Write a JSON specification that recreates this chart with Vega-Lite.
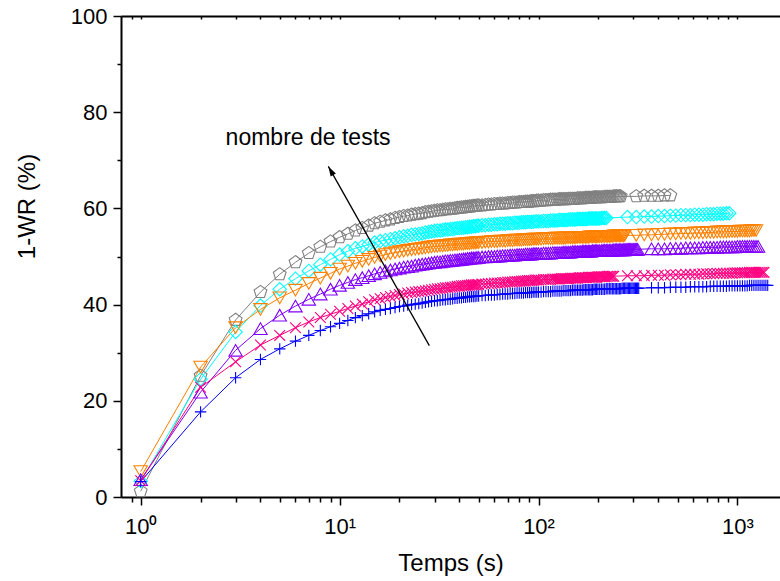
{
"$schema": "https://vega.github.io/schema/vega-lite/v6.json",
"width": 659, "height": 481,
"autosize": {"type": "none"},
"padding": {"left": 121, "top": 16, "right": 0, "bottom": 84},
"background": "white",
"config": {"view": {"stroke": null}, "font": "Liberation Sans"},
"datasets": {"d": [
{"t":1,"g":1.2,"c":3.3,"o":5.3,"p":3.6,"m":3.4,"b":3.2},
{"t":2,"g":25.2,"c":24.5,"o":27.0,"p":21.8,"m":22.8,"b":17.7},
{"t":3,"g":36.8,"c":34.3,"o":35.2,"p":30.5,"m":28.1,"b":24.8},
{"t":4,"g":42.6,"c":39.8,"o":39.0,"p":35.0,"m":31.6,"b":28.6},
{"t":5,"g":46.3,"c":43.2,"o":41.4,"p":37.8,"m":33.6,"b":30.8},
{"t":6,"g":48.8,"c":45.4,"o":43.0,"p":39.7,"m":35.2,"b":32.4},
{"t":7,"g":50.7,"c":47.0,"o":44.4,"p":41.1,"m":36.4,"b":33.6},
{"t":8,"g":52.0,"c":48.3,"o":45.5,"p":42.2,"m":37.3,"b":34.6},
{"t":9,"g":53.1,"c":49.4,"o":46.5,"p":43.2,"m":38.0,"b":35.4},
{"t":10,"g":54.0,"c":50.4,"o":47.4,"p":44.0,"m":38.6,"b":36.1},
{"t":11,"g":54.7,"c":51.1,"o":48.0,"p":44.6,"m":39.2,"b":36.7},
{"t":12,"g":55.4,"c":51.7,"o":48.6,"p":45.2,"m":39.7,"b":37.3},
{"t":13,"g":55.9,"c":52.1,"o":49.0,"p":45.6,"m":40.1,"b":37.7},
{"t":14,"g":56.4,"c":52.5,"o":49.4,"p":46.0,"m":40.6,"b":38.1},
{"t":15,"g":56.9,"c":52.9,"o":49.8,"p":46.4,"m":41.0,"b":38.5},
{"t":16,"g":57.2,"c":53.2,"o":50.1,"p":46.7,"m":41.2,"b":38.8},
{"t":17,"g":57.5,"c":53.4,"o":50.4,"p":47.0,"m":41.5,"b":39.0},
{"t":18,"g":57.7,"c":53.6,"o":50.6,"p":47.2,"m":41.7,"b":39.2},
{"t":19,"g":58.0,"c":53.8,"o":50.8,"p":47.4,"m":41.9,"b":39.4},
{"t":20,"g":58.2,"c":54.0,"o":51.0,"p":47.6,"m":42.1,"b":39.6},
{"t":21,"g":58.4,"c":54.2,"o":51.1,"p":47.8,"m":42.2,"b":39.7},
{"t":22,"g":58.5,"c":54.3,"o":51.3,"p":47.9,"m":42.4,"b":39.9},
{"t":23,"g":58.7,"c":54.5,"o":51.4,"p":48.0,"m":42.5,"b":40.0},
{"t":24,"g":58.8,"c":54.6,"o":51.5,"p":48.2,"m":42.6,"b":40.1},
{"t":25,"g":58.9,"c":54.7,"o":51.6,"p":48.3,"m":42.7,"b":40.2},
{"t":26,"g":59.0,"c":54.8,"o":51.7,"p":48.4,"m":42.8,"b":40.3},
{"t":27,"g":59.2,"c":55.0,"o":51.8,"p":48.5,"m":42.9,"b":40.5},
{"t":28,"g":59.3,"c":55.1,"o":51.9,"p":48.6,"m":43.0,"b":40.6},
{"t":29,"g":59.4,"c":55.2,"o":52.0,"p":48.7,"m":43.1,"b":40.7},
{"t":30,"g":59.5,"c":55.3,"o":52.1,"p":48.8,"m":43.2,"b":40.8},
{"t":31,"g":59.6,"c":55.4,"o":52.1,"p":48.9,"m":43.3,"b":40.8},
{"t":32,"g":59.6,"c":55.4,"o":52.2,"p":48.9,"m":43.3,"b":40.9},
{"t":33,"g":59.7,"c":55.5,"o":52.2,"p":49.0,"m":43.4,"b":41.0},
{"t":34,"g":59.8,"c":55.6,"o":52.3,"p":49.1,"m":43.5,"b":41.0},
{"t":35,"g":59.8,"c":55.6,"o":52.3,"p":49.1,"m":43.5,"b":41.1},
{"t":36,"g":59.9,"c":55.7,"o":52.4,"p":49.2,"m":43.6,"b":41.1},
{"t":37,"g":59.9,"c":55.7,"o":52.4,"p":49.2,"m":43.6,"b":41.2},
{"t":38,"g":60.0,"c":55.8,"o":52.5,"p":49.3,"m":43.7,"b":41.3},
{"t":39,"g":60.1,"c":55.9,"o":52.5,"p":49.3,"m":43.8,"b":41.3},
{"t":40,"g":60.1,"c":55.9,"o":52.6,"p":49.4,"m":43.8,"b":41.4},
{"t":41,"g":60.2,"c":56.0,"o":52.6,"p":49.4,"m":43.9,"b":41.4},
{"t":42,"g":60.2,"c":56.0,"o":52.6,"p":49.5,"m":43.9,"b":41.5},
{"t":43,"g":60.3,"c":56.1,"o":52.7,"p":49.5,"m":43.9,"b":41.5},
{"t":44,"g":60.3,"c":56.1,"o":52.7,"p":49.6,"m":44.0,"b":41.6},
{"t":45,"g":60.4,"c":56.2,"o":52.7,"p":49.6,"m":44.0,"b":41.6},
{"t":46,"g":60.4,"c":56.2,"o":52.8,"p":49.7,"m":44.1,"b":41.7},
{"t":47,"g":60.5,"c":56.3,"o":52.8,"p":49.7,"m":44.1,"b":41.7},
{"t":48,"g":60.5,"c":56.3,"o":52.8,"p":49.7,"m":44.1,"b":41.7},
{"t":49,"g":60.6,"c":56.4,"o":52.9,"p":49.8,"m":44.2,"b":41.8},
{"t":50,"g":60.6,"c":56.4,"o":52.9,"p":49.8,"m":44.2,"b":41.8},
{"t":52,"g":60.6,"c":56.5,"o":52.9,"p":49.9,"m":44.3,"b":41.9},
{"t":54,"g":60.7,"c":56.5,"o":53.0,"p":49.9,"m":44.3,"b":41.9},
{"t":56,"g":60.8,"c":56.6,"o":53.0,"p":50.0,"m":44.4,"b":42.0},
{"t":58,"g":60.8,"c":56.6,"o":53.1,"p":50.0,"m":44.4,"b":42.0},
{"t":60,"g":60.9,"c":56.7,"o":53.1,"p":50.0,"m":44.5,"b":42.0},
{"t":62,"g":60.9,"c":56.7,"o":53.1,"p":50.1,"m":44.5,"b":42.1},
{"t":64,"g":61.0,"c":56.8,"o":53.2,"p":50.1,"m":44.5,"b":42.1},
{"t":66,"g":61.0,"c":56.8,"o":53.2,"p":50.2,"m":44.6,"b":42.2},
{"t":68,"g":61.0,"c":56.8,"o":53.2,"p":50.2,"m":44.6,"b":42.2},
{"t":70,"g":61.1,"c":56.9,"o":53.3,"p":50.2,"m":44.7,"b":42.2},
{"t":72,"g":61.1,"c":56.9,"o":53.3,"p":50.3,"m":44.7,"b":42.3},
{"t":74,"g":61.2,"c":56.9,"o":53.3,"p":50.3,"m":44.7,"b":42.3},
{"t":76,"g":61.2,"c":57.0,"o":53.4,"p":50.3,"m":44.8,"b":42.3},
{"t":78,"g":61.2,"c":57.0,"o":53.4,"p":50.4,"m":44.8,"b":42.4},
{"t":80,"g":61.3,"c":57.0,"o":53.4,"p":50.4,"m":44.8,"b":42.4},
{"t":82,"g":61.3,"c":57.1,"o":53.4,"p":50.4,"m":44.9,"b":42.4},
{"t":84,"g":61.3,"c":57.1,"o":53.5,"p":50.4,"m":44.9,"b":42.4},
{"t":86,"g":61.4,"c":57.1,"o":53.5,"p":50.5,"m":44.9,"b":42.5},
{"t":88,"g":61.4,"c":57.2,"o":53.5,"p":50.5,"m":45.0,"b":42.5},
{"t":90,"g":61.4,"c":57.2,"o":53.5,"p":50.5,"m":45.0,"b":42.5},
{"t":92,"g":61.5,"c":57.2,"o":53.5,"p":50.5,"m":45.0,"b":42.5},
{"t":94,"g":61.5,"c":57.2,"o":53.6,"p":50.6,"m":45.0,"b":42.6},
{"t":96,"g":61.5,"c":57.3,"o":53.6,"p":50.6,"m":45.1,"b":42.6},
{"t":98,"g":61.6,"c":57.3,"o":53.6,"p":50.6,"m":45.1,"b":42.6},
{"t":100,"g":61.6,"c":57.3,"o":53.6,"p":50.6,"m":45.1,"b":42.6},
{"t":103,"g":61.6,"c":57.3,"o":53.6,"p":50.6,"m":45.1,"b":42.6},
{"t":106,"g":61.7,"c":57.4,"o":53.7,"p":50.7,"m":45.2,"b":42.7},
{"t":109,"g":61.7,"c":57.4,"o":53.7,"p":50.7,"m":45.2,"b":42.7},
{"t":112,"g":61.7,"c":57.4,"o":53.7,"p":50.7,"m":45.2,"b":42.7},
{"t":115,"g":61.8,"c":57.5,"o":53.7,"p":50.7,"m":45.2,"b":42.7},
{"t":118,"g":61.8,"c":57.5,"o":53.7,"p":50.8,"m":45.3,"b":42.8},
{"t":121,"g":61.8,"c":57.5,"o":53.8,"p":50.8,"m":45.3,"b":42.8},
{"t":124,"g":61.8,"c":57.5,"o":53.8,"p":50.8,"m":45.3,"b":42.8},
{"t":127,"g":61.9,"c":57.6,"o":53.8,"p":50.8,"m":45.3,"b":42.8},
{"t":130,"g":61.9,"c":57.6,"o":53.8,"p":50.8,"m":45.4,"b":42.8},
{"t":133,"g":61.9,"c":57.6,"o":53.8,"p":50.9,"m":45.4,"b":42.9},
{"t":136,"g":61.9,"c":57.6,"o":53.8,"p":50.9,"m":45.4,"b":42.9},
{"t":139,"g":61.9,"c":57.6,"o":53.9,"p":50.9,"m":45.4,"b":42.9},
{"t":142,"g":62.0,"c":57.7,"o":53.9,"p":50.9,"m":45.4,"b":42.9},
{"t":145,"g":62.0,"c":57.7,"o":53.9,"p":50.9,"m":45.5,"b":42.9},
{"t":148,"g":62.0,"c":57.7,"o":53.9,"p":51.0,"m":45.5,"b":43.0},
{"t":151,"g":62.0,"c":57.7,"o":53.9,"p":51.0,"m":45.5,"b":43.0},
{"t":154,"g":62.0,"c":57.7,"o":53.9,"p":51.0,"m":45.5,"b":43.0},
{"t":157,"g":62.1,"c":57.8,"o":54.0,"p":51.0,"m":45.5,"b":43.0},
{"t":160,"g":62.1,"c":57.8,"o":54.0,"p":51.0,"m":45.6,"b":43.0},
{"t":163,"g":62.1,"c":57.8,"o":54.0,"p":51.0,"m":45.6,"b":43.0},
{"t":166,"g":62.1,"c":57.8,"o":54.0,"p":51.1,"m":45.6,"b":43.0},
{"t":169,"g":62.1,"c":57.8,"o":54.0,"p":51.1,"m":45.6,"b":43.1},
{"t":172,"g":62.2,"c":57.8,"o":54.0,"p":51.1,"m":45.6,"b":43.1},
{"t":175,"g":62.2,"c":57.8,"o":54.0,"p":51.1,"m":45.6,"b":43.1},
{"t":178,"g":62.2,"c":57.9,"o":54.0,"p":51.1,"m":45.7,"b":43.1},
{"t":181,"g":62.2,"c":57.9,"o":54.1,"p":51.1,"m":45.7,"b":43.1},
{"t":184,"g":62.2,"c":57.9,"o":54.1,"p":51.1,"m":45.7,"b":43.1},
{"t":187,"g":62.2,"c":57.9,"o":54.1,"p":51.2,"m":45.7,"b":43.1},
{"t":190,"g":62.3,"c":57.9,"o":54.1,"p":51.2,"m":45.7,"b":43.2},
{"t":193,"g":62.3,"c":57.9,"o":54.1,"p":51.2,"m":45.7,"b":43.2},
{"t":196,"g":62.3,"c":57.9,"o":54.1,"p":51.2,"m":45.7,"b":43.2},
{"t":199,"g":62.3,"c":57.9,"o":54.1,"p":51.2,"m":45.8,"b":43.2},
{"t":203,"g":62.3,"c":57.9,"o":54.1,"p":51.2,"m":45.8,"b":43.2},
{"t":207,"g":62.3,"c":58.0,"o":54.1,"p":51.2,"m":45.8,"b":43.2},
{"t":211,"g":62.3,"c":58.0,"o":54.2,"p":51.3,"m":45.8,"b":43.2},
{"t":215,"g":62.4,"c":58.0,"o":54.2,"p":51.3,"m":45.8,"b":43.2},
{"t":219,"g":62.4,"c":58.0,"o":54.2,"p":51.3,"m":45.8,"b":43.3},
{"t":223,"g":62.4,"o":54.2,"p":51.3,"m":45.9,"b":43.3},
{"t":227,"g":62.4,"o":54.2,"p":51.3,"m":45.9,"b":43.3},
{"t":231,"g":62.4,"o":54.2,"p":51.3,"m":45.9,"b":43.3},
{"t":235,"g":62.4,"o":54.2,"p":51.3,"m":45.9,"b":43.3},
{"t":239,"g":62.5,"o":54.3,"p":51.4,"m":45.9,"b":43.3},
{"t":243,"g":62.5,"o":54.3,"p":51.4,"b":43.3},
{"t":247,"g":62.5,"o":54.3,"p":51.4,"b":43.3},
{"t":251,"g":62.5,"o":54.3,"p":51.4,"b":43.3},
{"t":255,"g":62.5,"o":54.3,"p":51.4,"b":43.3},
{"t":259,"g":62.5,"o":54.3,"p":51.4,"b":43.3},
{"t":263,"o":54.3,"p":51.4,"b":43.4},
{"t":267,"o":54.3,"p":51.4,"b":43.4},
{"t":271,"o":54.4,"p":51.4,"b":43.4},
{"t":275,"p":51.5,"b":43.4},
{"t":279,"p":51.5,"b":43.4},
{"t":280,"c":58.2,"m":46.0},
{"t":283,"p":51.5,"b":43.4},
{"t":287,"p":51.5,"b":43.4},
{"t":291,"p":51.5,"b":43.4},
{"t":295,"p":51.5,"b":43.4},
{"t":299,"p":51.5,"b":43.4},
{"t":303,"p":51.5,"b":43.4},
{"t":307,"p":51.5,"b":43.4},
{"t":310,"g":62.5,"c":58.2,"o":54.4,"m":46.0},
{"t":311,"p":51.5,"b":43.4},
{"t":315,"p":51.5,"b":43.4},
{"t":319,"b":43.4},
{"t":340,"g":62.6,"c":58.3,"o":54.5,"m":46.0},
{"t":370,"g":62.6,"c":58.3,"o":54.5,"p":51.6,"m":46.1,"b":43.5},
{"t":400,"g":62.6,"c":58.4,"o":54.6,"p":51.6,"m":46.1,"b":43.5},
{"t":430,"g":62.7,"c":58.4,"o":54.6,"p":51.6,"m":46.1,"b":43.5},
{"t":460,"g":62.7,"c":58.5,"o":54.7,"p":51.7,"m":46.2,"b":43.6},
{"t":490,"c":58.5,"o":54.7,"p":51.7,"m":46.2,"b":43.6},
{"t":520,"c":58.6,"o":54.8,"p":51.7,"m":46.2,"b":43.6},
{"t":550,"c":58.6,"o":54.8,"p":51.8,"m":46.3,"b":43.6},
{"t":580,"c":58.6,"o":54.8,"p":51.8,"m":46.3,"b":43.7},
{"t":610,"c":58.7,"o":54.9,"p":51.8,"m":46.3,"b":43.7},
{"t":640,"c":58.7,"o":54.9,"p":51.8,"m":46.3,"b":43.7},
{"t":670,"c":58.7,"o":54.9,"p":51.9,"m":46.4,"b":43.7},
{"t":700,"c":58.8,"o":55.0,"p":51.9,"m":46.4,"b":43.7},
{"t":730,"c":58.8,"o":55.0,"p":51.9,"m":46.4,"b":43.8},
{"t":760,"c":58.8,"o":55.0,"p":51.9,"m":46.4,"b":43.8},
{"t":790,"c":58.9,"o":55.1,"p":51.9,"m":46.5,"b":43.8},
{"t":820,"c":58.9,"o":55.1,"p":52.0,"m":46.5,"b":43.8},
{"t":850,"c":58.9,"o":55.1,"p":52.0,"m":46.5,"b":43.8},
{"t":880,"c":59.0,"o":55.1,"p":52.0,"m":46.5,"b":43.8},
{"t":910,"c":59.0,"o":55.2,"p":52.0,"m":46.5,"b":43.9},
{"t":940,"o":55.2,"p":52.0,"m":46.5,"b":43.9},
{"t":970,"o":55.2,"p":52.0,"m":46.6,"b":43.9},
{"t":1000,"o":55.2,"p":52.1,"m":46.6,"b":43.9},
{"t":1030,"o":55.3,"p":52.1,"m":46.6,"b":43.9},
{"t":1060,"o":55.3,"p":52.1,"m":46.6,"b":43.9},
{"t":1090,"o":55.3,"p":52.1,"m":46.6,"b":43.9},
{"t":1120,"o":55.3,"p":52.1,"m":46.6,"b":43.9},
{"t":1150,"o":55.3,"p":52.1,"m":46.7,"b":44.0},
{"t":1180,"o":55.4,"p":52.1,"m":46.7,"b":44.0},
{"t":1210,"o":55.4,"p":52.1,"m":46.7,"b":44.0},
{"t":1240,"o":55.4,"p":52.1,"m":46.7,"b":44.0},
{"t":1270,"p":52.1,"m":46.7,"b":44.0},
{"t":1300,"m":46.7,"b":44.0},
{"t":1330,"m":46.7,"b":44.0},
{"t":1360,"m":46.7,"b":44.0},
{"t":1390,"b":44.0},
{"t":1420,"b":44.0}
]},
"layer": [
{
"data": {"name": "d"},
"transform": [{"fold": ["g","c","o","p","m","b"], "as": ["s","y"]}, {"filter": "isValid(datum.y)"}],
"mark": {"type": "line", "strokeWidth": 1},
"encoding": {
"x": {"field": "t", "type": "quantitative", "scale": {"type": "log", "domain": [0.796, 1637], "nice": false},
"axis": {"orient": "bottom", "values": [1,10,100,1000], "labelExpr": "datum.value < 5 ? '10⁰' : datum.value < 50 ? '10¹' : datum.value < 500 ? '10²' : '10³'", "tickSize": 8, "tickWidth": 1.5, "tickColor": "black", "domainWidth": 2, "domainColor": "black", "labelFontSize": 22, "labelFont": "Liberation Sans", "labelColor": "black", "labelPadding": 11, "labelFlush": false, "labelOverlap": false, "grid": false, "title": "Temps (s)", "titleFontSize": 24, "titleFont": "Liberation Sans", "titleFontWeight": "normal", "titleColor": "black", "titleY": 54, "titleBaseline": "top"}},
"y": {"field": "y", "type": "quantitative", "scale": {"domain": [0, 100], "nice": false},
"axis": {"orient": "left", "values": [0,20,40,60,80,100], "tickSize": 8, "tickWidth": 1.5, "tickColor": "black", "domainWidth": 2, "domainColor": "black", "labelFontSize": 22, "labelFont": "Liberation Sans", "labelColor": "black", "labelPadding": 6, "labelFlush": false, "grid": false, "title": "1-WR (%)", "titleFontSize": 24, "titleFont": "Liberation Sans", "titleFontWeight": "normal", "titleColor": "black", "titleAngle": -90, "titleAlign": "center", "titleBaseline": "alphabetic", "titleX": -87, "titleY": 190}},
"color": {"field": "s", "type": "nominal", "scale": {"domain": ["g","c","o","p","m","b"], "range": ["#808080","#00FFFF","#FF8000","#8000FF","#FF0080","#0000FF"]}, "legend": null}
}
},
{
"data": {"name": "d"},
"transform": [{"fold": ["g","c","o","p","m","b"], "as": ["s","y"]}, {"filter": "isValid(datum.y)"}],
"mark": {"type": "point", "filled": false, "size": 180, "strokeWidth": 1.1, "opacity": 1},
"encoding": {
"x": {"field": "t", "type": "quantitative", "scale": {"type": "log", "domain": [0.796, 1637], "nice": false},
"axis": {"orient": "bottom", "values": [0.9,2,3,4,5,6,7,8,9,20,30,40,50,60,70,80,90,200,300,400,500,600,700,800,900], "labels": false, "tickSize": 5, "tickWidth": 1.5, "tickColor": "black", "domain": false, "grid": false, "title": null}},
"y": {"field": "y", "type": "quantitative", "scale": {"domain": [0, 100], "nice": false},
"axis": {"orient": "left", "values": [10,30,50,70,90], "labels": false, "tickSize": 4, "tickWidth": 1.5, "tickColor": "black", "domain": false, "grid": false, "title": null}},
"color": {"field": "s", "type": "nominal", "scale": {"domain": ["g","c","o","p","m","b"], "range": ["#808080","#00FFFF","#FF8000","#8000FF","#FF0080","#0000FF"]}, "legend": null},
"shape": {"field": "s", "type": "nominal", "scale": {"domain": ["g","c","o","p","m","b"], "range": ["M0,-1L0.951,-0.309L0.588,0.809L-0.588,0.809L-0.951,-0.309Z","diamond","triangle-down","triangle-up","M-0.8,-0.8L0.8,0.8M-0.8,0.8L0.8,-0.8","M-0.85,0L0.85,0M0,-0.85L0,0.85"]}, "legend": null}
}
},
{
"data": {"values": [{"t": 28.25, "y": 31.46, "t2": 8.776, "y2": 68.75}]},
"mark": {"type": "rule", "strokeWidth": 1.3, "color": "black"},
"encoding": {
"x": {"field": "t", "type": "quantitative", "scale": {"type": "log", "domain": [0.796, 1637], "nice": false},
"axis": {"orient": "top", "values": [0.9,1,2,3,4,5,6,7,8,9,10,20,30,40,50,60,70,80,90,100,200,300,400,500,600,700,800,900,1000], "labels": false, "tickSize": -3, "tickWidth": 1.5, "tickColor": "black", "domainWidth": 2, "domainColor": "black", "grid": false, "title": null}},
"y": {"field": "y", "type": "quantitative", "scale": {"domain": [0, 100], "nice": false}, "axis": null},
"x2": {"field": "t2"},
"y2": {"field": "y2"}
}
},
{
"data": {"values": [{"t": 9.03, "y": 67.83}]},
"mark": {"type": "point", "shape": "M0,-1L0.6,1L-0.6,1Z", "size": 100, "filled": true, "color": "black", "opacity": 1, "angle": 330.6},
"encoding": {
"x": {"field": "t", "type": "quantitative", "scale": {"type": "log", "domain": [0.796, 1637], "nice": false}, "axis": null},
"y": {"field": "y", "type": "quantitative", "scale": {"domain": [0, 100], "nice": false}, "axis": null}
}
},
{
"data": {"values": [{"t": 6.94, "y": 73.1, "label": "nombre de tests"}]},
"mark": {"type": "text", "fontSize": 23, "font": "Liberation Sans", "align": "center", "baseline": "alphabetic", "color": "black"},
"encoding": {
"x": {"field": "t", "type": "quantitative", "scale": {"type": "log", "domain": [0.796, 1637], "nice": false}, "axis": null},
"y": {"field": "y", "type": "quantitative", "scale": {"domain": [0, 100], "nice": false}, "axis": null},
"text": {"field": "label"}
}
}
],
"resolve": {"axis": {"x": "independent", "y": "independent"}}
}
